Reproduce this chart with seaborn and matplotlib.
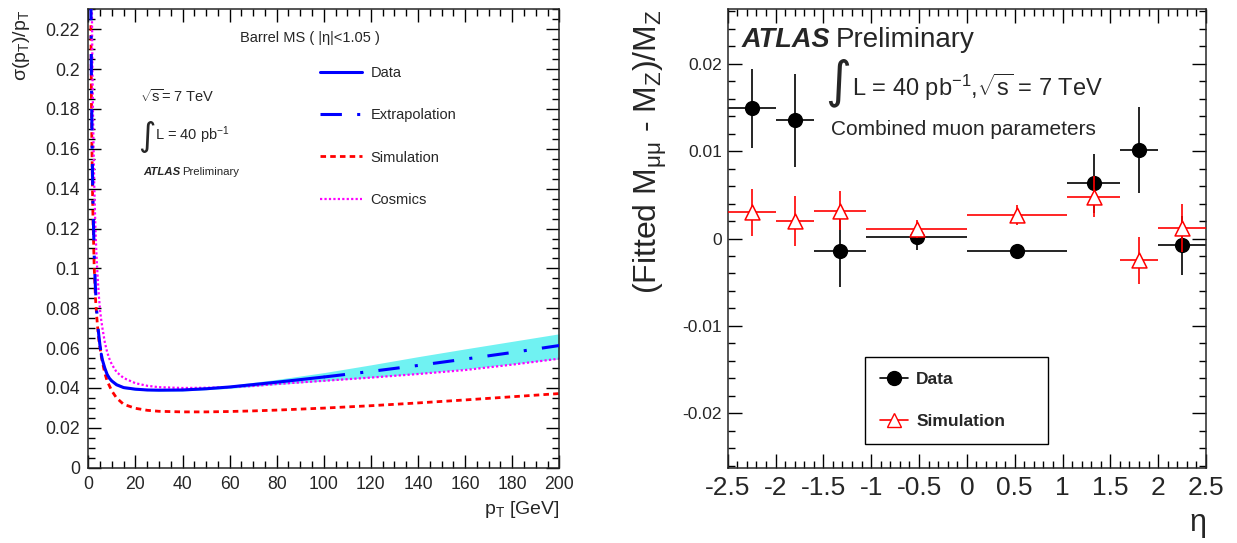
import matplotlib
matplotlib.use("Agg")

import numpy as np
import pandas as pd
import matplotlib.pyplot as plt
from matplotlib.lines import Line2D
from matplotlib.ticker import MultipleLocator
import seaborn as sns

# ---- left panel: resolution curves ----
pt = [1.1, 1.3, 1.5, 1.75, 2, 2.5, 3, 3.5, 4, 4.5, 5, 5.5, 6, 7, 8, 9, 10, 12, 15,
      20, 25, 30, 40, 50, 60, 70, 80, 90, 100, 110, 120, 140, 160, 180, 200]
data_res = [0.236, 0.200, 0.174, 0.150, 0.132, 0.107, 0.091, 0.080, 0.072, 0.066,
            0.061, 0.057, 0.054, 0.050, 0.0468, 0.0448, 0.0435, 0.0416, 0.0402,
            0.0394, 0.0390, 0.0389, 0.0390, 0.0396, 0.0405, 0.0417, 0.0429, 0.0442,
            0.0455, 0.0469, 0.0483, 0.0513, 0.0545, 0.0578, 0.0613]
sim_res = [0.222, 0.189, 0.165, 0.142, 0.125, 0.101, 0.086, 0.077, 0.070, 0.064,
           0.060, 0.056, 0.053, 0.0475, 0.0435, 0.0410, 0.0385, 0.0350, 0.0318,
           0.0298, 0.0288, 0.0283, 0.0280, 0.0280, 0.0282, 0.0285, 0.0289, 0.0294,
           0.0299, 0.0305, 0.0311, 0.0325, 0.0340, 0.0356, 0.0372]
cosmic_res = [0.300, 0.270, 0.234, 0.201, 0.177, 0.143, 0.121, 0.106, 0.095, 0.086,
              0.079, 0.074, 0.070, 0.063, 0.058, 0.0545, 0.0518, 0.0480, 0.0450,
              0.0424, 0.0411, 0.0404, 0.0400, 0.0401, 0.0404, 0.0410, 0.0420, 0.0428,
              0.0436, 0.0444, 0.0452, 0.0470, 0.0490, 0.0517, 0.0547]
data_lo, data_hi = 5.5, 100   # measured range, outside it the curve is extrapolated

band_pt = [10, 15, 20, 30, 40, 60, 80, 100, 120, 140, 160, 180, 200]
band_lo = [0.0428, 0.0397, 0.0389, 0.0384, 0.0385, 0.0398, 0.0417, 0.0435, 0.0453,
           0.0472, 0.0495, 0.0520, 0.0547]
band_hi = [0.0442, 0.0407, 0.0399, 0.0394, 0.0396, 0.0413, 0.0443, 0.0477, 0.0516,
           0.0557, 0.0596, 0.0634, 0.0672]

# ---- right panel: mass shift vs eta ----
eta_lo = [-2.5, -2.0, -1.6, -1.05, 0.0, 1.05, 1.6, 2.0]
eta_hi = [-2.0, -1.6, -1.05, 0.0, 1.05, 1.6, 2.0, 2.5]
shift_data = [0.0149, 0.0135, -0.0014, 0.0002, -0.0014, 0.0063, 0.0101, -0.0008]
shift_data_err = [0.0045, 0.0053, 0.0042, 0.0015, 0.0007, 0.0034, 0.0049, 0.0034]
shift_sim = [0.0030, 0.0020, 0.0032, 0.0011, 0.0027, 0.0048, -0.0025, 0.0012]
shift_sim_err = [0.0027, 0.0029, 0.0022, 0.0010, 0.0011, 0.0023, 0.0027, 0.0028]

sns.set_style("ticks")
plt.rcParams["font.family"] = ["Liberation Sans", "DejaVu Sans"]
plt.rcParams["mathtext.fontset"] = "custom"
plt.rcParams["mathtext.rm"] = "Liberation Sans"
plt.rcParams["mathtext.it"] = "Liberation Sans:italic"
plt.rcParams["mathtext.bf"] = "Liberation Sans:bold"
plt.rcParams["axes.linewidth"] = 1.1

fig = plt.figure(figsize=(12.37, 5.43), dpi=100)
W, H = 1237, 543
ax1 = fig.add_axes([88.3 / W, 1 - 467.7 / H, 471 / W, 458.4 / H])
ax2 = fig.add_axes([727.7 / W, 1 - 467.7 / H, 478.3 / W, 458.4 / H])


def root_ticks(ax, maj, mnr):
    ax.tick_params(which="both", direction="in", top=True, right=True, color="black")
    ax.tick_params(which="major", length=maj, width=1)
    ax.tick_params(which="minor", length=mnr, width=1)


# left panel
curves = pd.DataFrame({"pt": pt, "data": data_res, "sim": sim_res, "cos": cosmic_res})
ax1.fill_between(band_pt, band_lo, band_hi, color="#70f2f2", lw=0, zorder=1)

inside = curves[(curves.pt >= data_lo) & (curves.pt <= data_hi)]
ext = pd.concat([curves[curves.pt <= data_lo].assign(seg=0),
                 curves[curves.pt >= data_hi].assign(seg=1)])

sns.lineplot(data=ext, x="pt", y="data", units="seg", estimator=None, ax=ax1,
             color="blue", lw=2.2, linestyle=(0, (7, 5, 1, 5)), zorder=3)
sns.lineplot(data=inside, x="pt", y="data", ax=ax1, color="blue", lw=2.2, zorder=3)
sns.lineplot(data=curves, x="pt", y="sim", ax=ax1, color="red", lw=2.0,
             linestyle=(0, (2, 1.5)), zorder=2)
sns.lineplot(data=curves, x="pt", y="cos", ax=ax1, color="magenta", lw=1.6,
             linestyle=(0, (1, 1)), zorder=2)

ax1.set_xlim(0, 200)
ax1.set_ylim(0, 0.23)
ax1.xaxis.set_major_locator(MultipleLocator(20))
ax1.xaxis.set_minor_locator(MultipleLocator(5))
ax1.yaxis.set_major_locator(MultipleLocator(0.02))
ax1.yaxis.set_minor_locator(MultipleLocator(0.005))
ax1.set_yticks(np.arange(0, 0.23, 0.02))
ax1.set_yticklabels(["0", "0.02", "0.04", "0.06", "0.08", "0.1", "0.12", "0.14",
                     "0.16", "0.18", "0.2", "0.22"])
root_ticks(ax1, 9.5, 4.8)
ax1.tick_params(axis="both", labelsize=12.7, pad=6)
ax1.set_xlabel(r"p$_{\mathregular{T}}$ [GeV]", fontsize=14, loc="right")
ax1.xaxis.set_label_coords(1.0, -0.092)
ax1.xaxis.label.set_va("center")
ax1.set_ylabel(r"σ(p$_{\mathregular{T}}$)/p$_{\mathregular{T}}$", fontsize=14, loc="top")
ax1.yaxis.set_label_coords(-0.141, 1.0)
ax1.yaxis.label.set_va("center")

leg_handles = [Line2D([], [], color="blue", lw=2.2),
               Line2D([], [], color="blue", lw=2.2, linestyle=(0, (7, 5, 1, 5))),
               Line2D([], [], color="red", lw=2.0, linestyle=(0, (2, 1.5))),
               Line2D([], [], color="magenta", lw=1.6, linestyle=(0, (1, 1)))]
ax1.legend(leg_handles, ["Data", "Extrapolation", "Simulation", "Cosmics"],
           loc="upper left", bbox_to_anchor=(0.492, 0.877), frameon=False,
           fontsize=10.5, handlelength=2.9, handletextpad=0.55, labelspacing=1.95,
           borderpad=0, borderaxespad=0)

ax1.text(0.471, 0.937, "Barrel MS ( |η|<1.05 )", transform=ax1.transAxes,
         fontsize=10.5, ha="center", va="center")
ax1.text(0.110, 0.809, r"$\sqrt{\mathregular{s}}$= 7 TeV", transform=ax1.transAxes,
         fontsize=10.5, ha="left", va="center")
ax1.text(0.124, 0.723, "∫", transform=ax1.transAxes, fontsize=24, ha="center",
         va="center", family=["DejaVu Sans"])
ax1.text(0.142, 0.726, r"L = 40 pb$^{\mathregular{-1}}$", transform=ax1.transAxes,
         fontsize=10.5, ha="left", va="center")
ax1.text(0.116, 0.645, "ATLAS", transform=ax1.transAxes, fontsize=8.2,
         fontweight="bold", fontstyle="italic", ha="left", va="center")
ax1.text(0.199, 0.645, "Preliminary", transform=ax1.transAxes, fontsize=8.2,
         ha="left", va="center")

# right panel
eta_c = [(a + b) / 2 for a, b in zip(eta_lo, eta_hi)]
eta_w = [(b - a) / 2 for a, b in zip(eta_lo, eta_hi)]
shifts = pd.DataFrame({"eta": eta_c, "data": shift_data, "sim": shift_sim})

ax2.errorbar(eta_c, shift_data, xerr=eta_w, yerr=shift_data_err, fmt="none",
             ecolor="black", elinewidth=1.2, capsize=0, zorder=2)
sns.scatterplot(data=shifts, x="eta", y="data", ax=ax2, color="black", marker="o",
                s=120, edgecolor="black", linewidth=0, zorder=3)
ax2.errorbar(eta_c, shift_sim, xerr=eta_w, yerr=shift_sim_err, fmt="none",
             ecolor="red", elinewidth=1.2, capsize=0, zorder=4)
sns.scatterplot(data=shifts, x="eta", y="sim", ax=ax2, marker="^", s=115,
                facecolor="white", edgecolor="red", linewidth=1.1, zorder=5)

ax2.set_xlim(-2.5, 2.5)
ax2.set_ylim(-0.0262, 0.0262)
ax2.xaxis.set_major_locator(MultipleLocator(0.5))
ax2.xaxis.set_minor_locator(MultipleLocator(0.1))
ax2.yaxis.set_major_locator(MultipleLocator(0.01))
ax2.yaxis.set_minor_locator(MultipleLocator(0.002))
ax2.set_xticks(np.arange(-2.5, 2.51, 0.5))
ax2.set_xticklabels(["-2.5", "-2", "-1.5", "-1", "-0.5", "0", "0.5", "1", "1.5",
                     "2", "2.5"])
ax2.set_yticks([-0.02, -0.01, 0, 0.01, 0.02])
ax2.set_yticklabels(["-0.02", "-0.01", "0", "0.01", "0.02"])
root_ticks(ax2, 10, 5)
ax2.tick_params(axis="x", labelsize=19, pad=6)
ax2.tick_params(axis="y", labelsize=12.5, pad=4)
ax2.set_xlabel("η", fontsize=22, loc="right")
ax2.xaxis.set_label_coords(1.0, -0.12)
ax2.xaxis.label.set_va("center")
ax2.set_ylabel(r"(Fitted M$_{\mathregular{μμ}}$ - M$_{\mathregular{Z}}$)/M$_{\mathregular{Z}}$",
               fontsize=23, loc="top")
ax2.yaxis.set_label_coords(-0.162, 1.0)
ax2.yaxis.label.set_va("center")

ax2.text(0.030, 0.933, "ATLAS", transform=ax2.transAxes, fontsize=19.5,
         fontweight="bold", fontstyle="italic", ha="left", va="center")
ax2.text(0.226, 0.933, "Preliminary", transform=ax2.transAxes, fontsize=20,
         ha="left", va="center")
ax2.text(0.231, 0.839, "∫", transform=ax2.transAxes, fontsize=36, ha="center",
         va="center", family=["DejaVu Sans"])
ax2.text(0.260, 0.830, r"L = 40 pb$^{\mathregular{-1}}$,$\sqrt{\mathregular{s}}$ = 7 TeV",
         transform=ax2.transAxes, fontsize=17, ha="left", va="center")
ax2.text(0.217, 0.737, "Combined muon parameters", transform=ax2.transAxes,
         fontsize=15, ha="left", va="center")

h2 = [Line2D([], [], color="black", lw=1.2, marker="o", markersize=10),
      Line2D([], [], color="red", lw=1.2, marker="^", markersize=10,
             markerfacecolor="white", markeredgecolor="red")]
leg2 = ax2.legend(h2, ["Data", "Simulation"], loc="upper left",
                  bbox_to_anchor=(0.287, 0.0517, 0.383, 0.19), mode="expand",
                  prop={"size": 12.5, "weight": "bold"}, handlelength=1.6,
                  handletextpad=0.5, labelspacing=1.55, borderpad=0.85,
                  borderaxespad=0, fancybox=False, edgecolor="black", framealpha=1)
leg2.get_frame().set_linewidth(1.0)

fig.savefig("out.png", dpi=100)
